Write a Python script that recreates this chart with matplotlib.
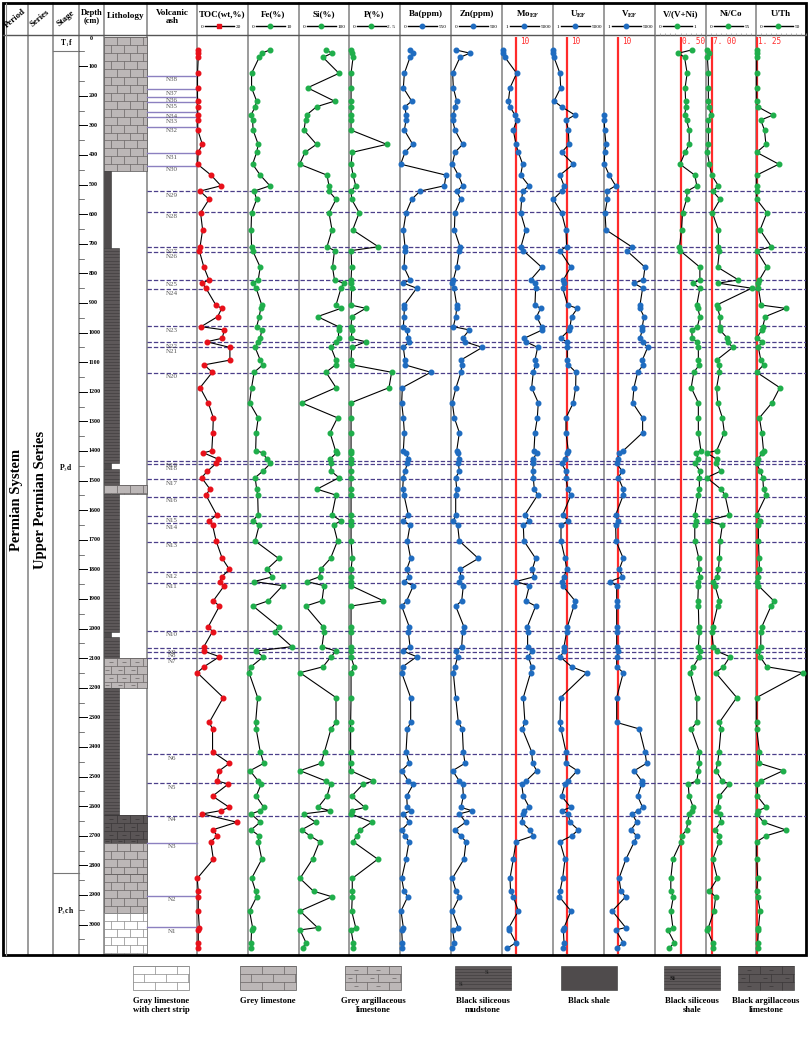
import numpy as np
import matplotlib
matplotlib.use("Agg")
import matplotlib.pyplot as plt
from matplotlib.collections import LineCollection
from matplotlib.patches import Rectangle

plt.rcParams['font.family'] = ['Liberation Serif', 'DejaVu Serif']
plt.rcParams['mathtext.fontset'] = 'stix'

# ------------------------------------------------------------------ data
depth_cm = [45, 56, 70, 124, 173, 218, 237, 265, 282, 316,
            364, 391, 431, 468, 504, 522, 550, 595, 653, 710,
            723, 779, 822, 833, 850, 907, 918, 946, 980, 991,
            1019, 1031, 1050, 1093, 1109, 1134, 1186, 1237, 1288, 1338,
            1399, 1406, 1428, 1442, 1468, 1490, 1529, 1549, 1616, 1636,
            1650, 1704, 1763, 1800, 1825, 1841, 1855, 1906, 1924, 1994,
            2010, 2061, 2076, 2095, 2129, 2149, 2233, 2317, 2339, 2416,
            2455, 2480, 2515, 2525, 2566, 2604, 2615, 2626, 2654, 2680,
            2700, 2720, 2779, 2844, 2887, 2906, 2954, 3010, 3018, 3061, 3080]

toc = [0.5, 0.4, 0.5, 0.2, 0.2, 0.2, 0.3, 0.3, 0.3, 0.3,
       2.1, 0.5, 0.2, 5.5, 9.4, 1.2, 4.7, 1.4, 2.2, 1.2,
       0.9, 2.7, 4.7, 2.1, 3.5, 7.4, 9.7, 8.1, 1.6, 10.7,
       9.9, 3.8, 12.9, 12.9, 2.8, 6.0, 1.2, 4.4, 6.4, 6.2,
       5.8, 2.5, 8.4, 7.5, 4.1, 1.8, 5.1, 3.5, 7.7, 4.8,
       6.1, 7.5, 9.9, 12.7, 9.7, 9.0, 10.7, 6.4, 8.8, 4.4,
       6.1, 2.7, 2.7, 8.8, 2.7, 0.1, 10.3, 4.8, 6.1, 6.1,
       12.7, 8.8, 8.0, 12.3, 6.1, 12.7, 9.3, 2.1, 15.6, 6.1,
       8.0, 5.4, 6.4, 0.1, 0.5, 0.5, 0.5, 0.9, 0.5, 0.5, 0.5]

fe = [4.3, 2.7, 2.2, 0.7, 0.7, 1.7, 1.4, 0.6, 0.9, 1.0,
      2.0, 1.7, 0.9, 2.4, 4.3, 1.2, 1.7, 0.7, 0.6, 0.7,
      0.9, 2.4, 2.0, 1.0, 1.6, 2.7, 2.5, 2.2, 1.7, 2.7,
      2.4, 2.0, 1.4, 2.4, 2.9, 1.2, 0.7, 0.3, 2.0, 1.6,
      1.5, 2.9, 3.7, 4.4, 2.9, 1.4, 1.7, 1.9, 2.0, 0.9,
      2.2, 1.4, 6.0, 3.7, 4.8, 1.2, 6.8, 4.0, 1.0, 6.0,
      5.3, 8.6, 1.5, 3.0, 0.6, 0.2, 1.9, 1.5, 1.6, 2.4,
      3.1, 0.4, 2.0, 2.6, 1.6, 3.1, 2.4, 0.6, 2.4, 0.6,
      2.2, 2.0, 2.7, 0.7, 1.5, 1.7, 0.3, 0.9, 0.7, 0.6, 0.5]

si = [53, 66, 48, 80, 17, 71, 35, 15, 13, 10,
      35, 12, 1, 56, 60, 60, 74, 60, 66, 56,
      71, 67, 71, 89, 84, 74, 84, 37, 79, 79,
      79, 74, 64, 74, 73, 54, 74, 5, 77, 62,
      73, 75, 62, 64, 64, 80, 36, 74, 66, 84,
      69, 77, 63, 43, 41, 15, 50, 46, 13, 48,
      50, 46, 74, 64, 48, 2, 74, 74, 64, 51,
      44, 2, 54, 63, 56, 38, 61, 9, 33, 5,
      22, 41, 27, 2, 29, 66, 2, 37, 2, 14, 7]

p = [0.1, 0.15, 0.2, 0.1, 0.1, 0.1, 0.1, 0.1, 0.1, 0.1,
     1.85, 0.16, 0.1, 0.2, 0.33, 0.1, 0.13, 0.5, 0.18, 1.44,
     0.1, 0.13, 0.1, 0.1, 0.13, 0.1, 0.82, 0.13, 0.1, 0.16,
     0.1, 0.82, 0.13, 0.1, 0.16, 2.09, 1.96, 0.1, 0.1, 0.1,
     0.1, 0.1, 0.1, 0.1, 0.1, 0.1, 0.1, 0.1, 0.1, 0.1,
     0.1, 0.1, 0.16, 0.1, 0.1, 0.1, 0.1, 1.68, 0.1, 0.1,
     0.1, 0.1, 0.1, 0.1, 0.25, 0.1, 0.1, 0.08, 0.08, 0.08,
     0.08, 0.08, 1.19, 0.7, 0.13, 0.78, 0.13, 0.1, 1.11, 0.54,
     0.38, 0.21, 1.41, 0.16, 0.16, 0.16, 0.13, 0.33, 0.1, 0.21, 0.18]

ba = [108, 137, 108, 47, 36, 126, 54, 65, 65, 47,
      137, 54, 7, 496, 478, 216, 126, 65, 36, 54,
      54, 43, 108, 36, 180, 47, 47, 43, 36, 72,
      90, 100, 36, 54, 54, 331, 25, 18, 36, 47,
      36, 65, 90, 79, 54, 36, 29, 43, 90, 36,
      108, 79, 115, 72, 100, 47, 144, 72, 18, 100,
      90, 108, 36, 180, 29, 18, 115, 115, 79, 65,
      100, 18, 90, 144, 72, 79, 119, 36, 100, 18,
      54, 97, 65, 18, 43, 83, 11, 36, 18, 25, 18]

zn = [46, 186, 88, 16, 23, 56, 39, 23, 16, 39,
      114, 39, 13, 72, 114, 56, 95, 39, 33, 88,
      82, 56, 23, 13, 29, 56, 56, 46, 23, 180,
      114, 137, 307, 95, 105, 98, 49, 13, 33, 82,
      56, 72, 82, 72, 82, 46, 56, 46, 46, 23,
      65, 82, 268, 88, 95, 82, 121, 105, 46, 127,
      114, 105, 46, 65, 39, 23, 46, 72, 111, 121,
      137, 16, 82, 114, 121, 98, 203, 82, 144, 39,
      95, 147, 127, 13, 49, 82, 13, 72, 16, 33, 13]

mo_ef = [1.1, 1.25, 1.65, 11.6, 3.8, 2.9, 3.8, 8.7, 11.6, 6.6,
         10.3, 15.3, 31.5, 22.5, 90.5, 31.5, 26.6, 22.5, 51.9, 23.8,
         35.2, 748, 119, 246, 275, 246, 633, 325, 748, 837,
         41.5, 54.8, 384, 246, 275, 186, 141, 429, 363, 246,
         208, 325, 186, 186, 167, 186, 220, 384, 46, 96,
         35, 39, 275, 158, 208, 10.3, 96, 52, 275, 69,
         72, 72, 141, 81, 141, 119, 35, 46, 30, 141,
         167, 325, 55, 26.6, 35, 96, 41.5, 35, 26.6, 107,
         186, 10.3, 6.6, 3.8, 4.2, 6.6, 15.3, 3.2, 3.4, 10.3, 2.4]

u_ef = [1.06, 1.06, 1.18, 3.2, 3.6, 1.18, 4.2, 39, 8.7, 12.9,
        14.4, 4.2, 30, 3.2, 6.3, 4.2, 1.06, 4.2, 8.7, 9.8,
        3.2, 19, 5.6, 6.3, 5.0, 11.6, 58, 22.5, 17, 15.3,
        3.6, 9.8, 10.9, 10.9, 12.9, 46, 44, 30, 8.7, 8.7,
        12.9, 10.9, 7.4, 4.2, 8.7, 8.7, 11.6, 20, 5.0, 12.9,
        3.8, 3.8, 7.4, 9.8, 6.3, 4.2, 5.0, 39, 33, 10.9,
        9.8, 6.3, 6.6, 3.2, 22.5, 275, 3.6, 3.2, 3.8, 8.7,
        8.7, 58, 11.6, 7.4, 4.2, 19, 4.2, 12.9, 17, 69,
        22.5, 3.2, 7.4, 5.0, 3.2, 2.9, 20, 6.3, 5.6, 6.3, 5.6]

v_ef = [np.nan, np.nan, np.nan, np.nan, np.nan, np.nan, np.nan, 1.0, 1.05, 1.1,
        1.4, 1.1, 1.06, 2.4, 7.0, 1.56, 1.75, 1.18, 1.4, 101,
        44, 935, 708, 149, 633, 406, 406, 792, 600, 600,
        406, 633, 1460, 600, 708, 275, 149, 119, 633, 633,
        25, 12.9, 9.8, 8.3, 21, 10.9, 25, 25, 7.0, 9.8,
        7.0, 7.4, 25, 12.9, 21, 2.7, 8.3, 8.3, 8.3, 8.3,
        8.3, 8.3, 10.9, 8.3, 8.3, 25, 8.3, 8.3, 363, 935,
        1236, 158, 536, 536, 275, 633, 307, 113, 233, 90,
        233, 158, 39, 12.2, 17, 37, 4.0, 37, 7.0, 25, 8.3]

v_vni = [0.72, 0.46, 0.58, 0.63, 0.59, 0.60, 0.61, 0.58, 0.62, 0.67,
         0.67, 0.59, 0.49, 0.78, 0.82, 0.63, 0.62, 0.54, 0.52, 0.48,
         0.49, 0.88, 0.88, 0.74, 0.88, 0.82, 0.84, 0.88, 0.83, 0.72,
         0.73, 0.82, 0.85, 0.85, 0.87, 0.76, 0.71, 0.85, 0.85, 0.85,
         0.90, 0.80, 0.85, 0.78, 0.88, 0.87, 0.87, 0.85, 0.78, 0.80,
         0.78, 0.78, 0.86, 0.86, 0.88, 0.85, 0.85, 0.84, 0.85, 0.86,
         0.87, 0.85, 0.88, 0.87, 0.75, 0.69, 0.82, 0.82, 0.71, 0.87,
         0.87, 0.85, 0.82, 0.65, 0.67, 0.75, 0.72, 0.67, 0.64, 0.62,
         0.52, 0.51, 0.35, 0.31, 0.31, 0.36, 0.31, 0.35, 0.25, 0.38, 0.28]

ni_co = [0.7, 3.3, 1.5, 2.6, 2.6, 2.6, 3.3, 5.5, 2.6, 2.6,
         2.6, 1.5, 3.7, 6.2, 13.6, 7.3, 15.4, 7.0, 13.6, 13.6,
         14.7, 12.8, 35.6, 13.6, 50.3, 11.7, 12.8, 15.4, 15.4, 15.4,
         23.5, 23.9, 29.4, 11.7, 14.7, 14.7, 11.7, 12.8, 18.0, 20.2,
         11.7, 0.7, 11.7, 11.0, 16.1, 0.7, 16.5, 20.9, 25.7, 1.5,
         18.0, 15.4, 14.7, 13.6, 12.5, 7.3, 9.9, 14.7, 12.8, 7.3,
         6.2, 8.1, 11.7, 26.4, 19.1, 10.6, 33.8, 14.7, 16.5, 14.3,
         12.8, 11.0, 18.0, 25.7, 14.7, 12.8, 11.0, 15.4, 16.5, 9.9,
         14.7, 14.7, 7.3, 12.5, 3.7, 10.6, 8.8, 2.6, 1.5, 7.3, 7.3]

u_th = [0.7, 0.7, 0.7, 0.7, 0.7, 0.7, 1.7, 17, 4.8, 8.5,
        9.9, 0.7, 22.8, 0.7, 0.7, 0.7, 0.7, 10.9, 4.1, 15.3,
        0.7, 10.9, 3.4, 2.4, 2.4, 5.1, 29.6, 9.2, 6.8, 5.8,
        0.7, 5.8, 2.4, 4.8, 7.5, 0.7, 23.8, 16, 3.4, 5.8,
        7.5, 5.8, 2.4, 0.7, 4.1, 6.8, 7.5, 10.2, 0.7, 4.1,
        2.4, 2.4, 3.1, 3.4, 2.4, 0.7, 2.4, 17.7, 15, 5.8,
        4.8, 4.8, 2.4, 4.1, 10.9, 46.6, 0.7, 0.7, 0.7, 3.4,
        3.4, 27.2, 4.8, 1.4, 1.4, 10.2, 1.7, 0.7, 7.5, 29.6,
        10.2, 0.7, 0.7, 1.7, 0.7, 1.7, 4.1, 2.4, 2.4, 1.7, 1.7]

ash_names = ['N38', 'N37', 'N36', 'N35', 'N34', 'N33', 'N32', 'N31', 'N30', 'N29',
             'N28', 'N27', 'N26', 'N25', 'N24', 'N23', 'N22', 'N21', 'N20', 'N19',
             'N18', 'N17', 'N16', 'N15', 'N14', 'N13', 'N12', 'N11', 'N10', 'N9',
             'N8', 'N7', 'N6', 'N5', 'N4', 'N3', 'N2', 'N1']
ash_depth = [132, 177, 203, 222, 254, 273, 304, 394, 436, 521,
             594, 712, 728, 822, 852, 978, 1031, 1050, 1135, 1433,
             1444, 1495, 1554, 1620, 1644, 1706, 1808, 1845, 2007, 2067,
             2078, 2098, 2425, 2523, 2632, 2723, 2902, 3008]
ash_dashed = [False] * 9 + [True] * 26 + [False] * 3

lith_top = [0, 455, 715, 1440, 1462, 1515, 1545, 2010, 2030, 2100, 2200, 2630, 2725, 2830, 2960]
lith_bot = [455, 715, 1440, 1462, 1515, 1545, 2010, 2030, 2100, 2200, 2630, 2725, 2830, 2960, 3100]
lith_type = ['grey_ls', 'black_shale', 'bk_sil', 'black_shale', 'bk_sil', 'grey_ls', 'bk_sil',
             'black_shale', 'bk_sil', 'grey_arg', 'bk_sil', 'bk_arg', 'grey_ls', 'grey_ls', 'chert_ls']

stage_bounds = [48, 2826]
stage_labels = [r'T$_1$f', r'P$_3$d', r'P$_3$ch']
stage_label_depth = [24, 1460, 2955]

depth_ticks = list(range(100, 3001, 100))

legend_labels = ['Gray limestone\nwith chert strip', 'Grey limestone', 'Grey argillaceous\nlimestone',
                 'Black siliceous\nmudstone', 'Black shale', 'Black siliceous\nshale',
                 'Black argillaceous\nlimestone']
legend_types = ['chert_ls', 'grey_ls', 'grey_arg', 'bk_sil_mud', 'black_shale', 'bk_sil', 'bk_arg']

# ------------------------------------------------------------------ layout
W, H = 809, 1041
Y_TOP, Y_BOT, DMAX = 36.6, 954.2, 3100
edges = [3, 28, 53, 79, 104, 147, 197, 248, 299, 349, 400, 451, 502, 553, 604, 655, 706, 756, 806]

RED = '#ff2b2b'
GREEN = '#1fae4b'
BLUE = '#1f6cc0'
MRED = '#e8101a'

fig = plt.figure(figsize=(W / 100, H / 100), dpi=100)


def fr(x0, y0, x1, y1):
    return [x0 / W, 1 - y1 / H, (x1 - x0) / W, (y1 - y0) / H]


bg = fig.add_axes([0, 0, 1, 1])
bg.set_xlim(0, W)
bg.set_ylim(H, 0)
bg.axis('off')

L = fig.add_axes(fr(3, Y_TOP, 806, Y_BOT))
L.set_xlim(3, 806)
L.set_ylim(DMAX, 0)
L.axis('off')


def brick(ax, x0, x1, y0, y1, rh, bw, lc, lw=0.5, dashes=False, dlen=2.0):
    segs = []
    y = y0
    i = 0
    while y < y1 - 1e-9:
        yb = min(y + rh, y1)
        segs.append([(x0, y), (x1, y)])
        x = x0 + (bw / 2 if i % 2 else bw)
        while x < x1 - 1e-9:
            segs.append([(x, y), (x, yb)])
            x += bw
        if dashes:
            xm = x0 + (bw / 4 if i % 2 else bw / 2)
            while xm < x1 - dlen:
                ym = (y + yb) / 2
                segs.append([(xm - dlen, ym), (xm + dlen, ym)])
                xm += bw
        y = yb
        i += 1
    ax.add_collection(LineCollection(segs, colors=lc, linewidths=lw))


def hlines_fill(ax, x0, x1, y0, y1, step, lc, lw=0.4):
    ys = np.arange(y0 + step, y1, step)
    segs = [[(x0, yy), (x1, yy)] for yy in ys]
    ax.add_collection(LineCollection(segs, colors=lc, linewidths=lw))


def draw_lith(ax, x0, x1, y0, y1, kind, rh, bw):
    h = y1 - y0
    if kind in ('grey_ls', 'grey_arg'):
        ax.add_patch(Rectangle((x0, y0), x1 - x0, h, fc='#bcb7b7', ec='#555', lw=0.5))
        brick(ax, x0, x1, y0, y1, rh, bw, '#6a6565', 0.5, dashes=(kind == 'grey_arg'))
    elif kind == 'chert_ls':
        ax.add_patch(Rectangle((x0, y0), x1 - x0, h, fc='white', ec='#777', lw=0.5))
        brick(ax, x0, x1, y0, y1, rh, bw, '#8a8a8a', 0.5)
    elif kind == 'black_shale':
        ax.add_patch(Rectangle((x0, y0), x1 - x0, h, fc='#4f4b4c', ec='#333', lw=0.4))
    elif kind in ('bk_sil', 'bk_sil_mud'):
        ax.add_patch(Rectangle((x0, y0), x1 - x0, h, fc='#5d5859', ec='#333', lw=0.4))
        hlines_fill(ax, x0, x1, y0, y1, rh / 2.6, '#3b3839', 0.4)
    elif kind == 'bk_arg':
        ax.add_patch(Rectangle((x0, y0), x1 - x0, h, fc='#5a5556', ec='#333', lw=0.4))
        brick(ax, x0, x1, y0, y1, rh, bw, '#3a3637', 0.5, dashes=True)


lith_width = {'grey_ls': 43, 'grey_arg': 43, 'chert_ls': 43, 'bk_arg': 43,
              'black_shale': 7, 'bk_sil': 15}
for t, b, k in zip(lith_top, lith_bot, lith_type):
    draw_lith(L, 104, 104 + lith_width[k], t, b, k, 27, 13)

# stage boundaries and labels
for d in stage_bounds:
    L.plot([53, 79], [d, d], color='#777', lw=0.8)
for lab, d in zip(stage_labels, stage_label_depth):
    L.text(66, d, lab, ha='center', va='center', fontsize=5.5, fontweight='bold')

# depth ticks
for t in depth_ticks:
    L.plot([79, 87], [t, t], color='k', lw=0.7)
    L.text(88.5, t, str(t), ha='left', va='center', fontsize=4.3, fontweight='bold')
for t in range(50, 3100, 100):
    L.plot([79, 84], [t, t], color='#444', lw=0.5)
L.text(91, 6, '0', ha='center', va='center', fontsize=4.3, fontweight='bold')

# volcanic ash layers
for name, d, dashed in zip(ash_names, ash_depth, ash_dashed):
    if dashed:
        L.plot([147, 806], [d, d], color='#4b3f8a', lw=0.9, dashes=(3.5, 1.6))
    else:
        L.plot([147, 197], [d, d], color='#8c80c0', lw=1.0)
    L.text(172, d + 6, name, ha='center', va='top', fontsize=5, color='#555')

# ------------------------------------------------------------------ data columns
columns = [
    ('TOC(wt,%)', toc, (0, 20), False, MRED, '0', '20', None, None),
    ('Fe(%)', fe, (0, 10), False, GREEN, '0', '10', None, None),
    ('Si(%)', si, (0, 100), False, GREEN, '0', '100', None, None),
    ('P(%)', p, (0, 2.5), False, GREEN, '0', '2. 5', None, None),
    ('Ba(ppm)', ba, (0, 550), False, BLUE, '0', '550', None, None),
    ('Zn(ppm)', zn, (0, 500), False, BLUE, '0', '500', None, None),
    (r'Mo$_{\mathbf{EF}}$', mo_ef, (1, 5000), True, BLUE, '1', '5000', 10, '10'),
    (r'U$_{\mathbf{EF}}$', u_ef, (1, 5000), True, BLUE, '1', '5000', 10, '10'),
    (r'V$_{\mathbf{EF}}$', v_ef, (1, 5000), True, BLUE, '1', '5000', 10, '10'),
    ('V/(V+Ni)', v_vni, (0, 1), False, GREEN, '0', '1', 0.5, '0. 50'),
    ('Ni/Co', ni_co, (0, 55), False, GREEN, '0', '55', 7.0, '7. 00'),
    ('U/Th', u_th, (0, 50), False, GREEN, '0', '50', 1.25, '1. 25'),
]

for i, (title, vals, xlim, logx, col, lo, hi, thr, thr_lab) in enumerate(columns):
    x0, x1 = edges[6 + i], edges[7 + i]
    ax = fig.add_axes(fr(x0, Y_TOP, x1, Y_BOT))
    ax.patch.set_alpha(0)
    if logx:
        ax.set_xscale('log')
    ax.set_xlim(*xlim)
    ax.set_ylim(DMAX, 0)
    ax.axis('off')
    if thr is not None:
        ax.axvline(thr, color=RED, lw=1.6, zorder=1)
        off = 3.0 if logx else 0.8
        ax.annotate(thr_lab, xy=(thr, 18), xytext=(off, 0), textcoords='offset points',
                    ha='left', va='center', fontsize=5.6, color=RED,
                    family='DejaVu Sans Mono')
    ax.plot(vals, depth_cm, color='k', lw=0.8, marker='o', ms=3.3,
            mfc=col, mec=col, zorder=3, clip_on=False)
    if i >= 9:
        tks = np.linspace(xlim[0], xlim[1], 11)
        ax.vlines(tks, -13, -5, color='#999', lw=0.5, clip_on=False)
    # header
    xc = (x0 + x1) / 2
    bg.text(xc, 14, title, ha='center', va='center', fontsize=6.5, fontweight='bold')
    bg.plot([x0 + 8, x0 + 37], [26, 26], color='k', lw=1.0)
    bg.plot([x0 + 22.5], [26], marker='s' if i == 0 else 'o', ms=3.2, color=col)
    bg.text(x0 + 6.5, 26.5, lo, ha='right', va='center', fontsize=3.8)
    bg.text(x0 + 38.5, 26.5, hi, ha='left', va='center', fontsize=3.8)

# ------------------------------------------------------------------ frame + header
for x in edges[1:-1]:
    bg.plot([x, x], [3, 955], color='#8a8a8a', lw=1.2, zorder=0.5)
bg.plot([3, 806], [35, 35], color='#555', lw=1.0)
bg.add_patch(Rectangle((3, 3), 803, 952, fill=False, ec='k', lw=2.0))
bg.plot([6.5, 6.5], [3, 955], color='#888', lw=0.8)

hdr = [('Period', 15, 18, 40), ('Series', 40, 18, 40), ('Stage', 66, 18, 40)]
for txt, x, y, r in hdr:
    bg.text(x, y, txt, ha='center', va='center', rotation=r, fontsize=6.3, fontweight='bold')
bg.text(91.5, 17, 'Depth\n(cm)', ha='center', va='center', fontsize=6.0, fontweight='bold',
        linespacing=1.0)
bg.text(125.5, 16, 'Lithology', ha='center', va='center', fontsize=6.6, fontweight='bold')
bg.text(172, 17, 'Volcanic\nash', ha='center', va='center', fontsize=6.6, fontweight='bold',
        linespacing=1.1)

bg.text(17, 500, 'Permian System', rotation=90, ha='center', va='center',
        fontsize=10.5, fontweight='bold')
bg.text(41, 500, 'Upper Permian Series', rotation=90, ha='center', va='center',
        fontsize=10.5, fontweight='bold')

# ------------------------------------------------------------------ legend
leg_cx = [161, 268, 373, 483, 589, 692, 766]
for cx, lab, kind in zip(leg_cx, legend_labels, legend_types):
    bx0, bx1, by0, by1 = cx - 28, cx + 28, 966, 990
    draw_lith(bg, bx0, bx1, by0, by1, kind, 8, 22)
    if kind == 'bk_sil_mud':
        bg.text(bx0 + 30, by0 + 6, 'Si', fontsize=4, color='#222', va='center')
        bg.text(bx0 + 4, by0 + 18, 'Si', fontsize=4, color='#222', va='center')
    if kind == 'bk_sil':
        bg.text(bx0 + 6, by0 + 12, 'Si', fontsize=5, color='#111', va='center', fontweight='bold')
    bg.text(cx, 997, lab, ha='center', va='top', fontsize=6.2, fontweight='bold', linespacing=1.15)

fig.savefig('out.png', dpi=100)
